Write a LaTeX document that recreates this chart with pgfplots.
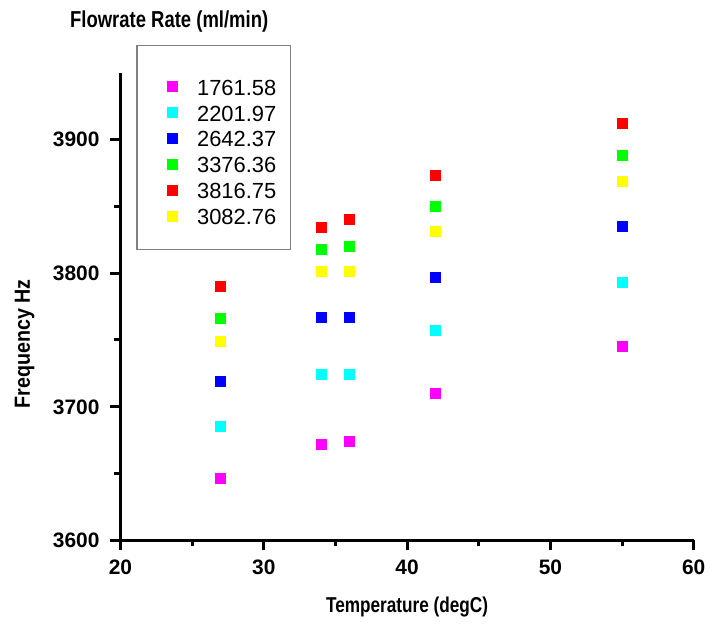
\documentclass[border=0pt]{standalone}
\usepackage{pgfplots}
\pgfplotsset{compat=1.18}
\usepackage{fontspec}
\setmainfont{Liberation Sans}
\newfontfamily\narrowf[FakeStretch=0.8]{Liberation Sans}
\newfontfamily\semif[FakeStretch=0.9]{Liberation Sans}
\definecolor{mag}{RGB}{255,0,255}
\definecolor{cya}{RGB}{0,255,255}
\definecolor{blu}{RGB}{0,0,255}
\definecolor{gre}{RGB}{0,255,0}
\definecolor{re}{RGB}{255,0,0}
\definecolor{yel}{RGB}{255,255,0}
\begin{document}
\begin{tikzpicture}
\path (-60.5pt,-42.5pt) rectangle (295.5pt,271.5pt);
\begin{axis}[
  scale only axis,
  width=288pt, height=235pt,
  xmin=20, xmax=60, ymin=3600, ymax=3950,
  axis x line*=bottom, axis y line*=left,
  axis line style={line width=1.5pt,-},
  xtick={20,30,40,50,60}, ytick={3600,3700,3800,3900},
  minor xtick={25,35,45,55}, minor ytick={3650,3750,3850},
  tick align=outside,
  major tick length=5pt, minor tick length=3pt,
  every tick/.style={line width=1.5pt,black},
  tick label style={font=\fontsize{10.5}{12}\selectfont\bfseries},
  /pgf/number format/assume math mode=true,
  /pgf/number format/1000 sep={},
  xticklabel style={yshift=-1pt},
  yticklabel style={xshift=-2pt},
  xlabel={Temperature (degC)},
  xlabel style={font=\fontsize{10.8}{12}\narrowf\bfseries, at={(axis description cs:0.5,-0.143)}, anchor=center},
  ylabel={Frequency Hz},
  ylabel style={font=\fontsize{11}{12}\semif\bfseries, at={(axis description cs:-0.167,0.42)}, anchor=center},
  legend style={at={(axis description cs:0.0278,1.0596)}, anchor=north west,
    draw=gray, line width=0.6pt, inner xsep=5pt, inner ysep=12.5pt,
    font=\fontsize{11}{13}\selectfont, column sep=1.2pt,
    nodes={inner ysep=0pt, text height=12.5pt, text depth=0pt}, row sep=0.5pt},
  legend cell align=left,
  legend image code/.code={\path[draw=none,fill=none] (0pt,0pt) -- (22pt,0pt); \draw plot coordinates {(13pt,-2pt)};},
  clip=false,
]
\addplot[only marks, mark=square*, mark size=2.5pt, mark options={draw=mag, fill=mag}] coordinates {(27,3646.5) (34,3672) (36,3674) (42,3710) (55,3745)};
\addlegendentry{1761.58}
\addplot[only marks, mark=square*, mark size=2.5pt, mark options={draw=cya, fill=cya}] coordinates {(27,3685) (34,3724) (36,3724) (42,3757) (55,3793)};
\addlegendentry{2201.97}
\addplot[only marks, mark=square*, mark size=2.5pt, mark options={draw=blu, fill=blu}] coordinates {(27,3719) (34,3767) (36,3767) (42,3797) (55,3835)};
\addlegendentry{2642.37}
\addplot[only marks, mark=square*, mark size=2.5pt, mark options={draw=gre, fill=gre}] coordinates {(27,3766) (34,3818) (36,3820) (42,3850) (55,3888)};
\addlegendentry{3376.36}
\addplot[only marks, mark=square*, mark size=2.5pt, mark options={draw=re, fill=re}] coordinates {(27,3790) (34,3834) (36,3840) (42,3873) (55,3912)};
\addlegendentry{3816.75}
\addplot[only marks, mark=square*, mark size=2.5pt, mark options={draw=yel, fill=yel}] coordinates {(27,3749) (34,3801) (36,3801) (42,3831) (55,3869)};
\addlegendentry{3082.76}
\node[font=\fontsize{11.6}{13}\narrowf\bfseries, anchor=center] at (axis description cs:0.085,1.1085) {Flowrate Rate (ml/min)};
\end{axis}
\end{tikzpicture}
\end{document}
